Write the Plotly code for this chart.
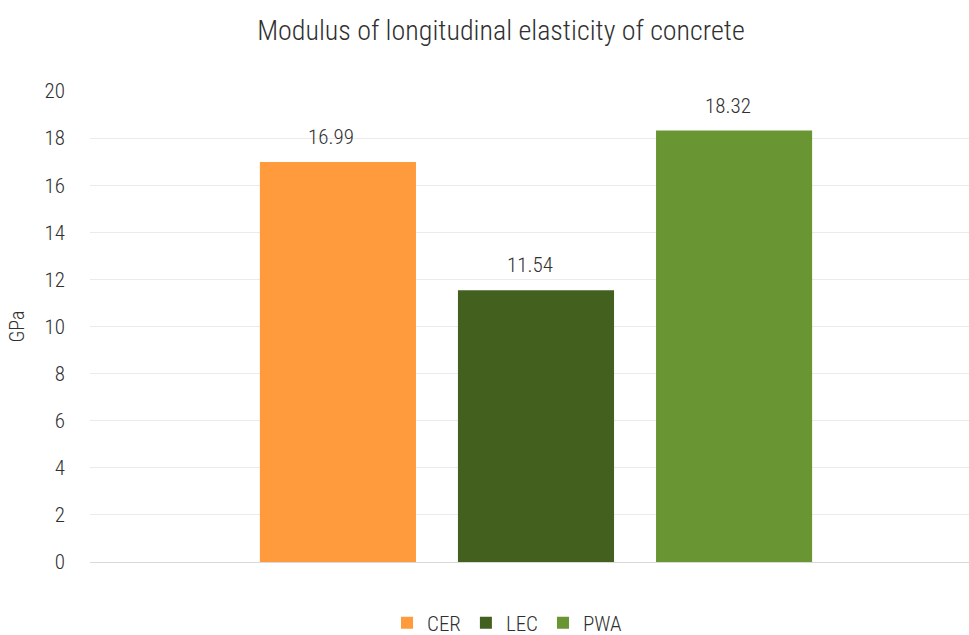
import plotly.graph_objects as go

# Modulus of longitudinal elasticity per concrete mix (GPa)
series = ["CER", "LEC", "PWA"]
values = [16.99, 11.54, 18.32]
colors = ["#FF9A3D", "#44601F", "#6A9533"]
category = [""]
y_ticks = list(range(0, 21, 2))

FONT = "Roboto Condensed, Liberation Sans Narrow, DejaVu Sans Condensed, Roboto, sans-serif"
TEXT_COLOR = "#303030"

# bar grouping geometry (axis units span the plot width)
PLOT_LEFT, PLOT_RIGHT = 90, 969
AXIS_UNIT_PX = 870
GROUP_CENTER_PX = 536
BARGAP = 0.317
BARGROUPGAP = 0.212
slot_px = (1 - BARGAP) * AXIS_UNIT_PX / len(series)

fig = go.Figure()
for name, val, col in zip(series, values, colors):
    fig.add_trace(go.Bar(
        name=name,
        x=category,
        y=[val],
        marker=dict(color=col, line=dict(width=0)),
        hovertemplate="%{y:.2f} GPa<extra>" + name + "</extra>",
    ))

# value labels sitting a little above each bar
for i, val in enumerate(values):
    fig.add_annotation(
        x=category[0], y=val, xref="x", yref="y",
        text=f"{val:.2f}",
        showarrow=False,
        xanchor="center", yanchor="bottom",
        xshift=(i - (len(values) - 1) / 2) * slot_px,
        yshift=11,
        font=dict(family=FONT, size=21, color=TEXT_COLOR, weight=300),
    )

fig.update_layout(
    width=969,
    height=635,
    margin=dict(l=PLOT_LEFT, r=969 - PLOT_RIGHT, t=91, b=73, autoexpand=False),
    paper_bgcolor="white",
    plot_bgcolor="white",
    barmode="group",
    bargap=BARGAP,
    bargroupgap=BARGROUPGAP,
    font=dict(family=FONT, color=TEXT_COLOR, size=21, weight=300),
    title=dict(
        text="Modulus of longitudinal elasticity of concrete",
        x=0.517, xanchor="center", y=0.953, yanchor="middle",
        font=dict(family=FONT, size=28, color=TEXT_COLOR, weight=300),
    ),
    xaxis=dict(
        range=[(PLOT_LEFT - GROUP_CENTER_PX) / AXIS_UNIT_PX,
               (PLOT_RIGHT - GROUP_CENTER_PX) / AXIS_UNIT_PX],
        showticklabels=False,
        showgrid=False,
        zeroline=False,
        showline=False,
        ticks="",
    ),
    yaxis=dict(
        range=[0, 20],
        tickvals=y_ticks,
        showgrid=True,
        gridcolor="#EBEBEB",
        gridwidth=1,
        zeroline=True,
        zerolinecolor="#D9D9D9",
        zerolinewidth=1,
        showline=False,
        ticks="",
        ticklabelstandoff=24,
        tickfont=dict(family=FONT, size=21, color=TEXT_COLOR, weight=300),
        title=dict(text="GPa", standoff=14,
                   font=dict(family=FONT, size=20, color=TEXT_COLOR, weight=300)),
    ),
    legend=dict(
        orientation="h",
        x=0.475, xanchor="center",
        yref="container",
        y=(635 - 623) / 635, yanchor="middle",
        font=dict(family=FONT, size=21, color=TEXT_COLOR, weight=300),
        itemwidth=30,
        traceorder="normal",
    ),
)

fig.write_html("out.html")
